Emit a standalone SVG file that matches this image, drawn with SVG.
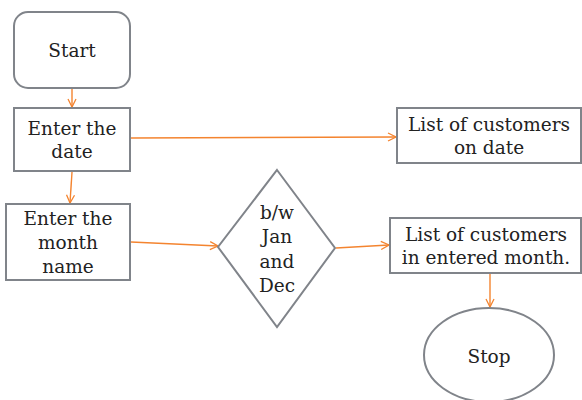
<svg xmlns="http://www.w3.org/2000/svg" width="582" height="400" viewBox="0 0 582 400">
<defs>
<marker id="ah" markerWidth="10" markerHeight="10" refX="9" refY="5" orient="auto" markerUnits="userSpaceOnUse">
<path d="M1,1 L9,5 L1,9" fill="none" stroke="#f4842f" stroke-width="1.3"/>
</marker>
<style>
.s{fill:#fff;stroke:#80848a;stroke-width:2}
.t{font-family:"DejaVu Serif","Liberation Serif",serif;font-size:18.5px;fill:#222;text-anchor:middle}
.c{fill:none;stroke:#f4842f;stroke-width:1.4;marker-end:url(#ah)}
</style>
</defs>
<rect width="582" height="400" fill="#fff"/>
<g id="connectors">
<line class="c" x1="72" y1="89" x2="72" y2="107"/>
<line class="c" x1="131" y1="138" x2="396" y2="137"/>
<line class="c" x1="72" y1="172" x2="70" y2="203"/>
<line class="c" x1="131" y1="242" x2="218" y2="246"/>
<line class="c" x1="336" y1="248" x2="389" y2="245"/>
<line class="c" x1="490" y1="274" x2="490" y2="307"/>
</g>
<g id="start">
<rect class="s" x="14" y="12" width="116" height="76" rx="14"/>
<text class="t" x="72" y="57">Start</text>
</g>
<g id="enter-date">
<rect class="s" x="14" y="108" width="116" height="63"/>
<text class="t" x="72" y="135">Enter the</text>
<text class="t" x="72" y="158">date</text>
</g>
<g id="enter-month">
<rect class="s" x="6" y="204" width="124" height="76"/>
<text class="t" x="68" y="225">Enter the</text>
<text class="t" x="68" y="249">month</text>
<text class="t" x="68" y="273">name</text>
</g>
<g id="decision">
<polygon class="s" points="277,170 335,248 277,327 218,247"/>
<text class="t" x="277" y="219">b/w</text>
<text class="t" x="277" y="243">Jan</text>
<text class="t" x="277" y="268">and</text>
<text class="t" x="277" y="292">Dec</text>
</g>
<g id="list-date">
<rect class="s" x="397" y="108" width="184" height="55"/>
<text class="t" x="489" y="131">List of customers</text>
<text class="t" x="489" y="154">on date</text>
</g>
<g id="list-month">
<rect class="s" x="390" y="218" width="191" height="55"/>
<text class="t" x="486" y="241">List of customers</text>
<text class="t" x="486" y="264">in entered month.</text>
</g>
<g id="stop">
<ellipse class="s" cx="489" cy="355" rx="65" ry="47"/>
<text class="t" x="489" y="363">Stop</text>
</g>
</svg>
